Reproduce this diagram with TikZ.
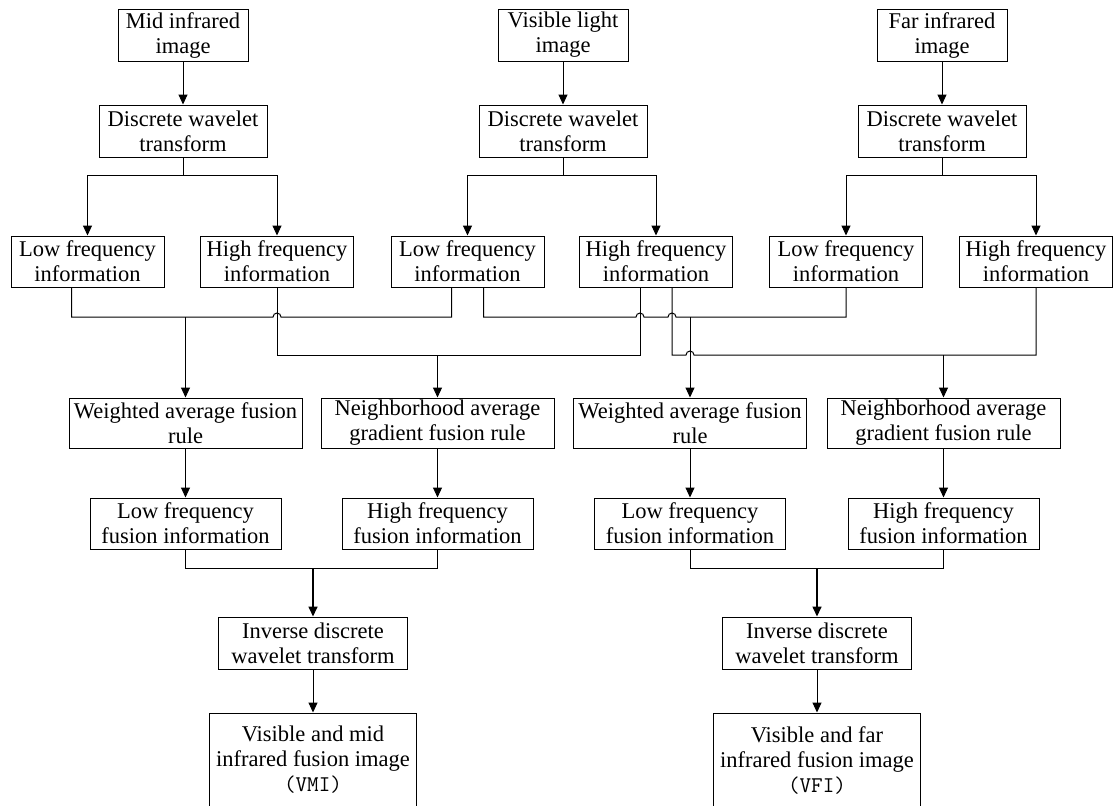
\documentclass[tikz,border=0pt]{standalone}
\usepackage{fontspec}
\setmainfont{Liberation Serif}
\usetikzlibrary{arrows.meta}

\tikzset{
  box/.style={draw, line width=0.5pt, align=center, inner sep=0pt,
    font=\fontsize{11.25}{12.5}\selectfont},
  srcbox/.style={box, minimum width=65pt, minimum height=26pt},
  dwtbox/.style={box, minimum width=84pt, minimum height=26pt},
  freqbox/.style={box, minimum width=76.5pt, minimum height=25.5pt},
  rulebox/.style={box, minimum width=116.5pt, minimum height=25pt},
  fusebox/.style={box, minimum width=95.5pt, minimum height=25.5pt},
  idwtbox/.style={box, minimum width=94.5pt, minimum height=26pt},
  outbox/.style={box, minimum width=103.5pt, minimum height=47pt},
  arr/.style={-{Triangle[length=5pt,width=4.5pt]}, line width=0.5pt},
  wire/.style={line width=0.5pt}
}

\begin{document}
\begin{tikzpicture}[x=0.5pt, y=-0.5pt]
\useasboundingbox (0,0) rectangle (1113,805);

% source images and wavelet transforms
\node[srcbox] (sm) at (183,35) {Mid infrared\\image};
\node[srcbox] (sv) at (563,35) {Visible light\\image};
\node[srcbox] (sf) at (942,35) {Far infrared\\image};
\node[dwtbox] (dm) at (183,131) {Discrete wavelet\\transform};
\node[dwtbox] (dv) at (563,131) {Discrete wavelet\\transform};
\node[dwtbox] (df) at (942,131) {Discrete wavelet\\transform};
\draw[arr] (sm) -- (dm);
\draw[arr] (sv) -- (dv);
\draw[arr] (sf) -- (df);

% frequency information
\node[freqbox] (lm) at (87.5,261.5) {Low frequency\\information};
\node[freqbox] (hm) at (277,261.5) {High frequency\\information};
\node[freqbox] (lv) at (467.5,261.5) {Low frequency\\information};
\node[freqbox] (hv) at (656,261.5) {High frequency\\information};
\node[freqbox] (lf) at (846,261.5) {Low frequency\\information};
\node[freqbox] (hf) at (1036,261.5) {High frequency\\information};

\coordinate (bm) at (183,175);
\coordinate (bv) at (563,175);
\coordinate (bf) at (942,175);
\draw[wire] (dm) -- (bm);
\draw[wire] (dv) -- (bv);
\draw[wire] (df) -- (bf);
\draw[arr] (bm) -| (lm);
\draw[arr] (bm) -| (hm);
\draw[arr] (bv) -| (lv);
\draw[arr] (bv) -| (hv);
\draw[arr] (bf) -| (lf);
\draw[arr] (bf) -| (hf);

% fusion rules
\node[rulebox] (rlA) at (185.5,423) {Weighted average fusion\\rule};
\node[rulebox] (rhA) at (437.5,423) {Neighborhood average\\gradient fusion rule};
\node[rulebox] (rlB) at (690,423) {Weighted average fusion\\rule};
\node[rulebox] (rhB) at (943.5,423) {Neighborhood average\\gradient fusion rule};

% buses with hops
\coordinate (jlA) at (185.5,317);
\coordinate (jlB) at (690,317);
\coordinate (jhA) at (437.5,355);
\coordinate (jhB) at (943.5,355);
\draw[wire] ([xshift=-8pt]lm.south) |- (jlA) -- (273,317)
  arc[start angle=180, end angle=0, radius=2pt] -| ([xshift=-8pt]lv.south);
\draw[wire] ([xshift=8pt]lv.south) |- (636,317)
  arc[start angle=180, end angle=0, radius=2pt] -- (668,317)
  arc[start angle=180, end angle=0, radius=2pt] -- (jlB) -| (lf.south);
\draw[wire] (hm.south) |- (jhA) -| ([xshift=-8pt]hv.south);
\draw[wire] ([xshift=8pt]hv.south) |- (686,355)
  arc[start angle=180, end angle=0, radius=2pt] -- (jhB) -| (hf.south);
\draw[arr] (jlA) -- (rlA);
\draw[arr] (jhA) -- (rhA);
\draw[arr] (jlB) -- (rlB);
\draw[arr] (jhB) -- (rhB);

% fusion information
\node[fusebox] (flA) at (185.5,523.5) {Low frequency\\fusion information};
\node[fusebox] (fhA) at (437.5,523.5) {High frequency\\fusion information};
\node[fusebox] (flB) at (690,523.5) {Low frequency\\fusion information};
\node[fusebox] (fhB) at (943.5,523.5) {High frequency\\fusion information};
\draw[arr] (rlA) -- (flA);
\draw[arr] (rhA) -- (fhA);
\draw[arr] (rlB) -- (flB);
\draw[arr] (rhB) -- (fhB);

% inverse transform and results
\node[idwtbox] (iA) at (313,643) {Inverse discrete\\wavelet transform};
\node[idwtbox] (iB) at (817,643) {Inverse discrete\\wavelet transform};
\node[outbox] (oA) at (313,760) {Visible and mid\\infrared fusion image\\{\ttfamily (VMI)}};
\node[outbox] (oB) at (817,760) {Visible and far\\infrared fusion image\\{\ttfamily (VFI)}};

\coordinate (jfA) at (313,568);
\coordinate (jfB) at (817,568);
\draw[wire] (flA) |- (jfA) -| (fhA);
\draw[wire] (flB) |- (jfB) -| (fhB);
\draw[arr, line width=0.8pt] (jfA) -- (iA);
\draw[arr, line width=0.8pt] (jfB) -- (iB);
\draw[arr] (iA) -- (oA);
\draw[arr] (iB) -- (oB);
\end{tikzpicture}
\end{document}
